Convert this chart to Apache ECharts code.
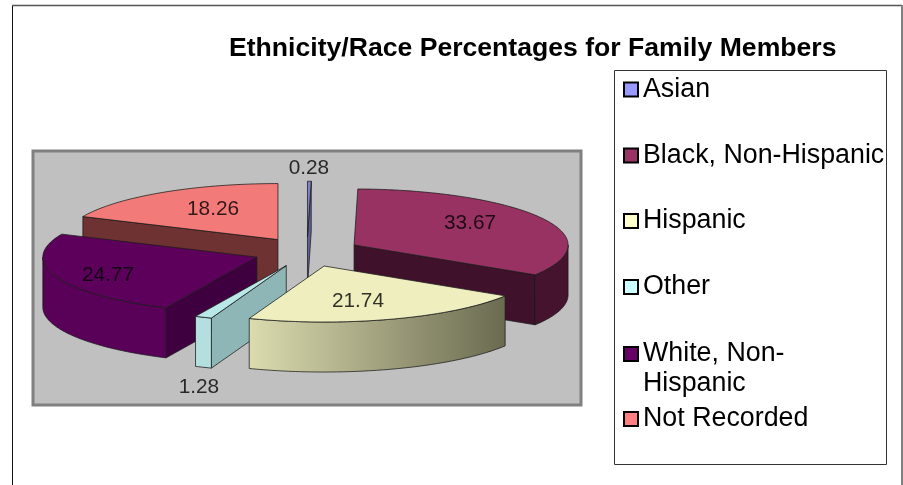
<!DOCTYPE html>
<html>
<head>
<meta charset="utf-8">
<style>html,body{margin:0;padding:0;background:#fff}#c{width:903px;height:485px}</style>
<script src="https://cdn.jsdelivr.net/npm/echarts@6/dist/echarts.min.js"></script>
</head>
<body>
<div id="c"></div>
<script>
const chartTitle = 'Ethnicity/Race Percentages for Family Members';
const categories = ['Asian', 'Black, Non-Hispanic', 'Hispanic', 'Other', 'White, Non-Hispanic', 'Not Recorded'];
const legendTexts = ['Asian', 'Black, Non-Hispanic', 'Hispanic', 'Other', '\nWhite, Non-\nHispanic', 'Not Recorded'];
const values = [0.28, 33.67, 21.74, 1.28, 24.77, 18.26];
const legendColors = ['#9999ff', '#993366', '#ffffcc', '#ccffff', '#660066', '#ff8080'];
const topColors = ['#7f82c8', '#983262', '#eeeebe', '#b9e8e8', '#5c005c', '#f27a78'];
const wallColors = ['#5f6098', '#46132e', ['#dcdcb0', '#6a6a50'], '#b4dfdf', '#590059', '#6e3232'];
const sideColors = ['#5f6098', '#40112a', '#8a8a68', '#8fb6b6', '#3f003f', '#6e3232'];
// label anchors in pie units (x in radii, y in tilted radii)
const labelAnchors = [[0.009, 1.5], [0.762, 0.518], [0.238, -0.875], [-0.505, -2.41], [-0.93, -0.41], [-0.439, 0.768]];
const legendTops = [74.5, 140.5, 206, 272, 309, 404];

const DEPTH = 0.893, EX = 0.25, EY = 0.264, STROKE = 'rgba(25,25,25,0.75)';
const total = values.reduce((a, b) => a + b, 0);
const FONT = '"Liberation Sans", Arial, sans-serif';

function renderSlice(params, api) {
  const i = params.seriesIndex;
  const v = api.value(0);
  let before = 0;
  for (let k = 0; k < i; k++) before += values[k];
  const a0 = before / total * 2 * Math.PI, a1 = (before + v) / total * 2 * Math.PI;
  const mid = (a0 + a1) / 2;
  const ox = EX * Math.sin(mid), oy = EY * Math.cos(mid);
  const P = (x, y) => api.coord([x, y]);
  const rim = (a, d) => P(ox + Math.sin(a), oy + Math.cos(a) - d);
  const apex = d => P(ox, oy - d);
  const poly = (points, fill, z2) => ({
    type: 'polygon', z2, shape: { points },
    style: { fill, stroke: STROKE, lineWidth: 1, lineJoin: 'round' }
  });
  const arc = (from, to, d) => {
    const out = [], n = Math.max(1, Math.ceil((to - from) / (Math.PI / 180)));
    for (let k = 0; k <= n; k++) out.push(rim(from + (to - from) * k / n, d));
    return out;
  };
  const children = [];
  if (Math.sin(a0) < -1e-6) {
    children.push(poly([apex(0), rim(a0, 0), rim(a0, DEPTH), apex(DEPTH)], sideColors[i], 1));
  }
  if (Math.sin(a1) > 1e-6) {
    children.push(poly([apex(0), rim(a1, 0), rim(a1, DEPTH), apex(DEPTH)], sideColors[i], 1));
  }
  const f0 = Math.max(a0, Math.PI / 2), f1 = Math.min(a1, 1.5 * Math.PI);
  if (f1 > f0) {
    let fill = wallColors[i];
    if (Array.isArray(fill)) {
      fill = { type: 'linear', x: 0, y: 0, x2: 1, y2: 0, colorStops: [{ offset: 0, color: fill[0] }, { offset: 1, color: fill[1] }] };
    }
    children.push(poly(arc(f0, f1, 0).concat(arc(f0, f1, DEPTH).reverse()), fill, 2));
  }
  children.push(poly([apex(0)].concat(arc(a0, a1, 0)), topColors[i], 3));
  return { type: 'group', children };
}

const order = values.map((v, i) => {
  let b = 0;
  for (let k = 0; k < i; k++) b += values[k];
  return -Math.cos((b + v / 2) / total * 2 * Math.PI);
});
const rank = order.map(o => order.filter(x => x < o).length);

const series = categories.map((name, i) => ({
  type: 'custom',
  name,
  z: 3 + rank[i],
  clip: false,
  silent: true,
  itemStyle: { color: legendColors[i] },
  renderItem: renderSlice,
  encode: { x: 0, y: 1 },
  data: [{ name, value: [values[i], 0] }]
}));
series.push({
  type: 'scatter',
  z: 30,
  silent: true,
  symbolSize: 0,
  label: {
    show: true, position: 'inside', color: '#000', fontFamily: FONT, fontSize: 20.8,
    formatter: p => p.value[2].toFixed(2)
  },
  data: values.map((v, i) => [labelAnchors[i][0], labelAnchors[i][1], v])
});

const legends = categories.map((name, i) => ({
  orient: 'vertical', left: 623, top: legendTops[i], padding: 0,
  itemWidth: 14, itemHeight: 14, icon: 'rect', selectedMode: false,
  itemStyle: { borderColor: '#000', borderWidth: 2 },
  data: [{ name }],
  formatter: () => legendTexts[i],
  textStyle: { color: '#000', fontFamily: FONT, fontSize: 26.8, lineHeight: 30 }
}));

const chart = echarts.init(document.getElementById('c'), null, { renderer: 'canvas' });
chart.setOption({
  animation: false,
  backgroundColor: '#fff',
  title: {
    text: chartTitle, left: 229, top: 35, padding: 0,
    textStyle: { fontFamily: FONT, fontWeight: 'bold', fontSize: 26.6, color: '#000' }
  },
  tooltip: { show: false },
  legend: legends,
  grid: {
    show: true, left: 33, top: 151, width: 548, height: 254,
    backgroundColor: '#c0c0c0', borderColor: '#808080', borderWidth: 3
  },
  xAxis: { type: 'value', min: -1.2804, max: 1.2804, show: false },
  yAxis: { type: 'value', min: -2.732, max: 1.8036, show: false },
  graphic: [
    { type: 'line', z: -1, shape: { x1: 12.5, y1: 5.5, x2: 12.5, y2: 485 }, style: { stroke: '#111', lineWidth: 1 } },
    { type: 'line', z: -1, shape: { x1: 12, y1: 5.5, x2: 902, y2: 5.5 }, style: { stroke: '#555', lineWidth: 1.5 } },
    { type: 'line', z: -1, shape: { x1: 902, y1: 5, x2: 902, y2: 485 }, style: { stroke: '#808080', lineWidth: 2 } },
    { type: 'rect', z: -1, shape: { x: 614.5, y: 70.5, width: 272, height: 394 }, style: { fill: '#fff', stroke: '#333', lineWidth: 1 } }
  ],
  series
});
</script>
</body>
</html>
